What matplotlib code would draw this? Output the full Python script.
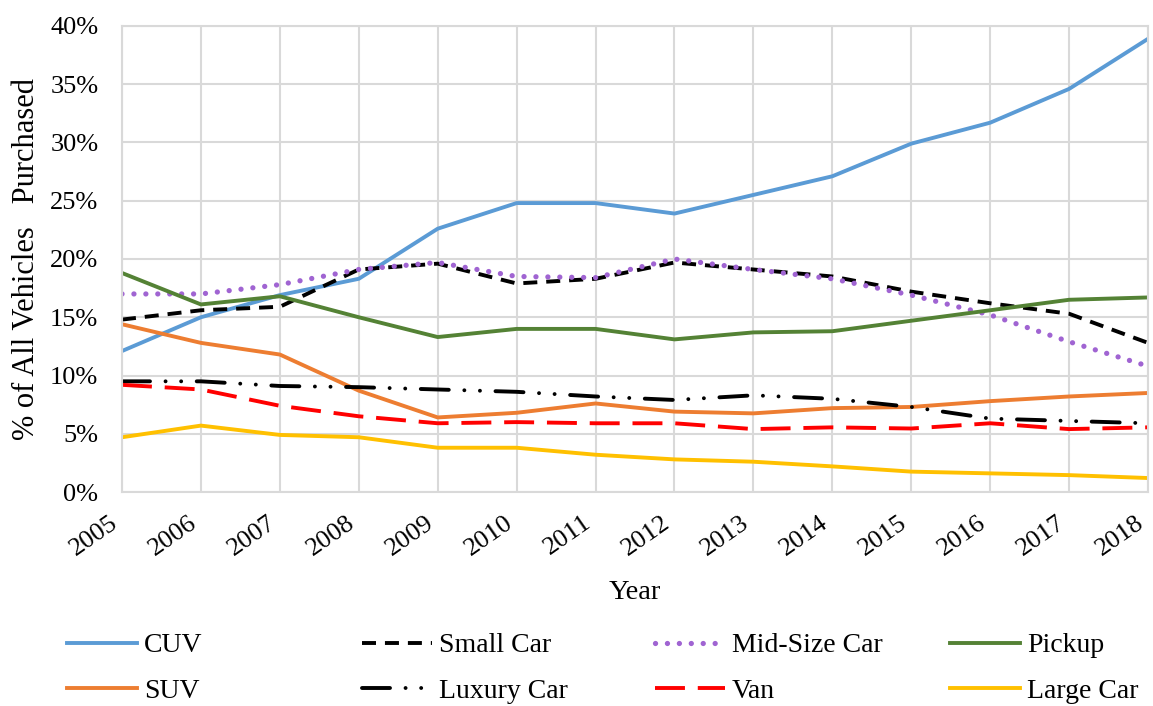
import matplotlib
matplotlib.use("Agg")
import matplotlib.pyplot as plt
from matplotlib.ticker import PercentFormatter

years = list(range(2005, 2019))

cuv = [12.1, 15.0, 16.9, 18.3, 22.6, 24.8, 24.8, 23.9, 25.5, 27.1, 29.9, 31.7, 34.6, 38.9]
small_car = [14.8, 15.6, 15.9, 19.1, 19.6, 17.9, 18.3, 19.7, 19.1, 18.5, 17.2, 16.2, 15.3, 12.8]
mid_size = [17.0, 17.0, 17.8, 19.1, 19.7, 18.5, 18.4, 20.0, 19.1, 18.3, 16.9, 15.2, 12.9, 10.8]
pickup = [18.8, 16.1, 16.8, 15.0, 13.3, 14.0, 14.0, 13.1, 13.7, 13.8, 14.7, 15.6, 16.5, 16.7]
suv = [14.4, 12.8, 11.8, 8.7, 6.4, 6.8, 7.6, 6.9, 6.75, 7.2, 7.3, 7.8, 8.2, 8.5]
luxury = [9.5, 9.5, 9.1, 9.0, 8.8, 8.6, 8.2, 7.9, 8.3, 8.0, 7.3, 6.3, 6.1, 5.9]
van = [9.2, 8.8, 7.4, 6.5, 5.9, 6.0, 5.9, 5.9, 5.4, 5.55, 5.45, 5.9, 5.4, 5.55]
large_car = [4.7, 5.7, 4.9, 4.7, 3.8, 3.8, 3.2, 2.8, 2.6, 2.2, 1.75, 1.6, 1.45, 1.2]

plt.rcParams['font.family'] = ['Liberation Serif', 'DejaVu Serif']
plt.rcParams['font.size'] = 19

fig = plt.figure(figsize=(11.53, 7.06), dpi=100)
ax = fig.add_axes([0.1058, 0.3031, 0.8899, 0.6601])

lw = 2.8
l_cuv, = ax.plot(years, cuv, color='#5B9BD5', lw=lw, label='CUV')
l_small, = ax.plot(years, small_car, color='black', lw=lw, dashes=(3.6, 2.3), label='Small Car')
l_mid, = ax.plot(years, mid_size, color='#A064D2', lw=3.8, dashes=(0.01, 2.25),
                 dash_capstyle='round', label='Mid-Size Car')
l_pick, = ax.plot(years, pickup, color='#548235', lw=lw, label='Pickup')
l_suv, = ax.plot(years, suv, color='#ED7D31', lw=lw, label='SUV')
l_lux, = ax.plot(years, luxury, color='black', lw=lw,
                 dashes=(7.2, 4.0, 0.01, 4.0, 0.01, 4.0), dash_capstyle='round',
                 label='Luxury Car')
l_van, = ax.plot(years, van, color='#FF0000', lw=lw, dashes=(7.7, 3.3), label='Van')
l_large, = ax.plot(years, large_car, color='#FFC000', lw=lw, label='Large Car')

ax.set_xlim(2005, 2018)
ax.set_ylim(0, 40)
ax.set_xticks(years)
ax.set_yticks(range(0, 41, 5))
ax.yaxis.set_major_formatter(PercentFormatter(decimals=0))
ax.grid(True, color='#D9D9D9', lw=1.5)
ax.set_axisbelow(True)
for s in ax.spines.values():
    s.set_color('#D9D9D9')
    s.set_linewidth(1.5)
ax.tick_params(length=0)
ax.tick_params(axis='y', pad=17)
ax.tick_params(axis='x', pad=14)
for lab in ax.get_xticklabels():
    lab.set_rotation(35)
    lab.set_ha('right')

ax.set_xlabel('Year', fontsize=20.5, va='center')
ax.xaxis.set_label_coords(0.5, -0.2146)
ax.set_ylabel('% of All Vehicles   Purchased', fontsize=22, va='center')
ax.yaxis.set_label_coords(-0.0926, 0.5)

cols = [([l_cuv, l_suv], 67), ([l_small, l_lux], 362),
        ([l_mid, l_van], 655), ([l_pick, l_large], 950)]
for handles, x in cols:
    fig.legend(handles=handles, loc='upper left', bbox_to_anchor=(x / 1153, 1 - 633 / 706),
               frameon=False, borderpad=0, borderaxespad=0, handlelength=2.52,
               handletextpad=0.25, labelspacing=0.72, fontsize=20)

fig.savefig('out.png', dpi=100)
